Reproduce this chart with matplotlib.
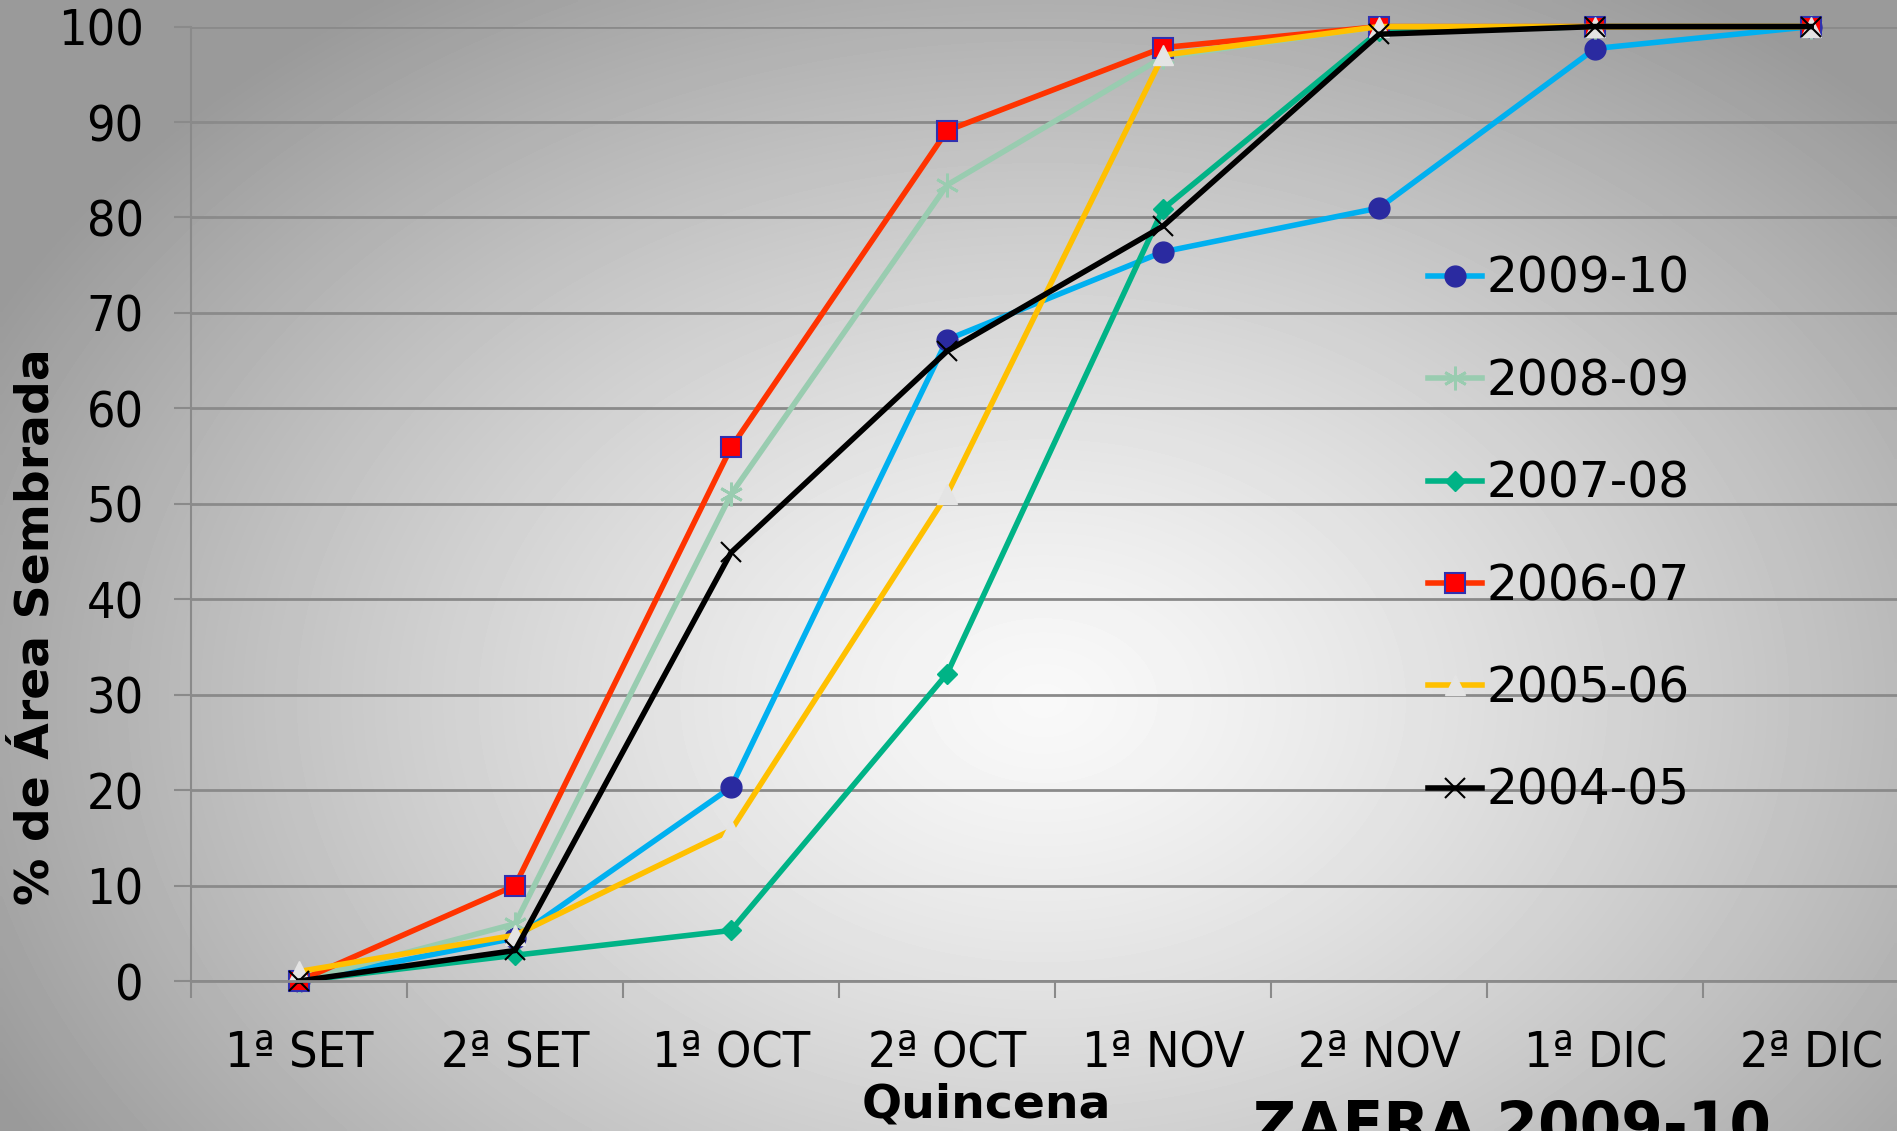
import numpy as np
import matplotlib
matplotlib.use("Agg")
import matplotlib.pyplot as plt

quincenas = ["1ª SET", "2ª SET", "1ª OCT", "2ª OCT", "1ª NOV", "2ª NOV", "1ª DIC", "2ª DIC"]
y_ticks = [0, 10, 20, 30, 40, 50, 60, 70, 80, 90, 100]

z2009_10 = [0, 4.5, 20.3, 67.2, 76.4, 81.0, 97.7, 100]
z2008_09 = [0, 6.0, 51.0, 83.4, 96.8, 100, 100, 100]
z2007_08 = [0, 2.7, 5.3, 32.2, 80.9, 99.5, 100, 100]
z2006_07 = [0, 10.0, 55.9, 89.1, 97.8, 100, 100, 100]
z2005_06 = [1.0, 4.8, 15.8, 51.0, 97.0, 100, 100, 100]
z2004_05 = [0, 3.2, 44.9, 66.0, 79.1, 99.2, 100, 100]

fig = plt.figure(figsize=(18.97, 11.31), dpi=100)

# fondo con degradado radial gris
bg = fig.add_axes([0, 0, 1, 1])
gx, gy = np.meshgrid(np.linspace(0, 1, 400), np.linspace(0, 1, 300))
r = np.sqrt(((gx - 0.55) / 0.62) ** 2 + ((gy - 0.62) / 0.75) ** 2)
r = np.clip(r, 0, 1)
shade = 0.975 - 0.37 * r ** 1.3
bg.imshow(shade, cmap="gray", vmin=0, vmax=1, extent=[0, 1, 0, 1],
          aspect="auto", origin="upper", interpolation="bilinear")
bg.axis("off")

ax = fig.add_axes([0.1007, 0.1326, 0.911, 0.8439])
ax.patch.set_alpha(0)
x = np.arange(len(quincenas))

series = [
    ("2009-10", z2009_10, dict(color="#00B0F0", marker="o", ms=15, mfc="#2A2AA0", mec="#2A2AA0")),
    ("2008-09", z2008_09, dict(color="#99CCB0", marker=(6, 2, 0), ms=17, mfc="#99CCB0", mec="#99CCB0", mew=2)),
    ("2007-08", z2007_08, dict(color="#00B386", marker="D", ms=10, mfc="#00B386", mec="#00B386")),
    ("2006-07", z2006_07, dict(color="#FF3300", marker="s", ms=14, mfc="#FF0000", mec="#3030B0", mew=1.5)),
    ("2005-06", z2005_06, dict(color="#FFC000", marker="^", ms=15, mfc="#E4E4E4", mec="#E4E4E4")),
    ("2004-05", z2004_05, dict(color="#000000", marker="x", ms=14, mfc="#000000", mec="#000000", mew=1.5)),
]
for name, vals, st in series:
    ax.plot(x, vals, lw=4.0, label=name, clip_on=False, **st)

ax.set_xlim(-0.5, 7.5)
ax.set_ylim(0, 100)
ax.set_yticks(y_ticks)
ax.yaxis.grid(True, color="#8A8A8A", lw=2)
ax.set_axisbelow(True)
ax.set_xticks(x)
ax.set_xticklabels(quincenas)
ax.set_xticks(np.arange(-0.5, 8, 1), minor=True)
ax.tick_params(axis="x", which="major", length=0, pad=34, labelsize=36)
ax.tick_params(axis="x", which="minor", length=12, width=1.5, color="#8A8A8A")
ax.tick_params(axis="y", length=12, width=1.5, color="#8A8A8A", labelsize=36, pad=22)
for lab in ax.get_xticklabels() + ax.get_yticklabels():
    lab.set_fontstretch("condensed")
for s in ["top", "right"]:
    ax.spines[s].set_visible(False)
ax.spines["left"].set_color("#8A8A8A")
ax.spines["left"].set_linewidth(1.5)
ax.spines["bottom"].set_color("#8A8A8A")
ax.spines["bottom"].set_linewidth(2)

fig.text(0.019, 0.4456, "% de Área Sembrada", fontsize=34, fontweight="bold",
         rotation=90, ha="center", va="center")
fig.text(0.520, 0.012, "Quincena", fontsize=34, fontweight="bold", ha="center", va="baseline")
fig.text(0.797, -0.012, "ZAFRA 2009-10", fontsize=43, fontweight="bold", ha="center", va="baseline")

ax.legend(loc="center left", bbox_to_anchor=(0.716, 0.4675), frameon=False, fontsize=35,
          handlelength=1.1, handletextpad=0.1, labelspacing=1.12, borderaxespad=0, borderpad=0)

fig.savefig("out.png", dpi=100)
